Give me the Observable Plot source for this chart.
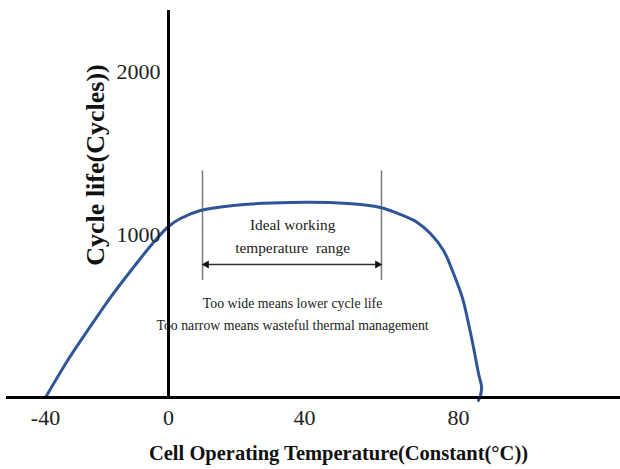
<!DOCTYPE html>
<html><head><meta charset="utf-8">
<script src="https://cdn.jsdelivr.net/npm/d3@7"></script>
<script src="https://cdn.jsdelivr.net/npm/@observablehq/plot@0.6"></script>
<style>body{margin:0;background:#fff} #chart svg{display:block}</style>
</head><body><div id="chart"></div>
<script>
// Curve: cycle life vs. operating temperature
const temps  = [-40,-32.8,-26.3,-18.9,-11.4,-4.9,0,3.5,9.4,19.1,35.9,51.2,59.7,64.2,69.3,72.7,76.1,78.7,81.0,82.6,83.9,85.2,86.0,85.7,85.2];
const cycles = [0,227,411,613,798,951,1049,1098,1147,1178,1196,1190,1166,1129,1074,1006,902,761,613,454,307,147,61,12,-18];

// Tick labels (the reference spaces them unevenly)
const xTicks = [-40, 0, 40, 80];
const yTicks = [1000, 2000];

// Ideal range annotation
const idealRange = [10, 60];
const bracketLow = 718, bracketHigh = 1390, arrowLevel = 816;
const noteX = 36.5;
const notes = [
  {text: "Ideal working", y: 1055, size: 15.3},
  {text: "temperature  range", y: 914, size: 15.3},
  {text: "Too wide means lower cycle life", y: 577, size: 13.8},
  {text: "Too narrow means wasteful thermal management", y: 442, size: 13.8}
];

const xLabel = "Cell Operating Temperature(Constant(°C))";
const yLabel = "Cycle life(Cycles))";

const curve = temps.map((t, i) => ({t, c: cycles[i]}));
const serif = "'Liberation Serif', 'Times New Roman', serif";

// piecewise warp reproducing the uneven spacing of the reference's x ticks
const warp = d3.scaleLinear().domain(xTicks).range([45, 168, 304, 458]);

const chart = Plot.plot({
  width: 620,
  height: 469,
  marginTop: 10,
  marginBottom: 72,
  marginLeft: 6,
  marginRight: 0,
  style: {fontFamily: serif, background: "#fff"},
  x: {transform: warp, domain: [6, 620], axis: null},
  y: {domain: [0, 2374], axis: null},
  marks: [
    Plot.text(notes.filter(d => d.size > 15), {x: () => noteX, y: "y", text: "text", fontSize: 15.3, fill: "#222"}),
    Plot.text(notes.filter(d => d.size < 15), {x: () => noteX, y: "y", text: "text", fontSize: 13.8, fill: "#222"}),
    Plot.ruleX(idealRange, {x: d => d, y1: bracketLow, y2: bracketHigh, stroke: "#7a7a7a", strokeWidth: 1.5}),
    Plot.link([idealRange], {x1: d => d[0], x2: d => d[1], y1: arrowLevel, y2: arrowLevel, stroke: "#333", strokeWidth: 1.5}),
    Plot.dot([idealRange[0]], {x: d => d, y: arrowLevel, symbol: "triangle", r: 3, rotate: -90, fill: "#111", stroke: "none", dx: 4}),
    Plot.dot([idealRange[1]], {x: d => d, y: arrowLevel, symbol: "triangle", r: 3, rotate: 90, fill: "#111", stroke: "none", dx: -4}),
    Plot.line(curve, {x: "t", y: "c", curve: "catmull-rom", stroke: "#2F5597", strokeWidth: 3}),
    Plot.ruleY([0], {stroke: "#000", strokeWidth: 3}),
    Plot.ruleX([0], {stroke: "#000", strokeWidth: 3}),
    Plot.text(xTicks, {x: d => d, y: () => 0, text: d => String(d), dy: 20, fontSize: 22, fill: "#222"}),
    Plot.text(yTicks, {x: () => 0, y: d => d, text: d => String(d), dx: -8, textAnchor: "end", fontSize: 22, fill: "#222"}),
    Plot.text([xLabel], {frameAnchor: "bottom", text: d => d, dx: 25, dy: 56, lineAnchor: "middle", textAnchor: "middle", fontSize: 20.5, fontWeight: "bold", fill: "#111"}),
    Plot.text([yLabel], {frameAnchor: "left", text: d => d, rotate: -90, dx: 89, dy: -39, textAnchor: "middle", lineAnchor: "middle", fontSize: 26, fontWeight: "bold", fill: "#111"})
  ]
});
document.getElementById("chart").appendChild(chart);
</script>
</body></html>
